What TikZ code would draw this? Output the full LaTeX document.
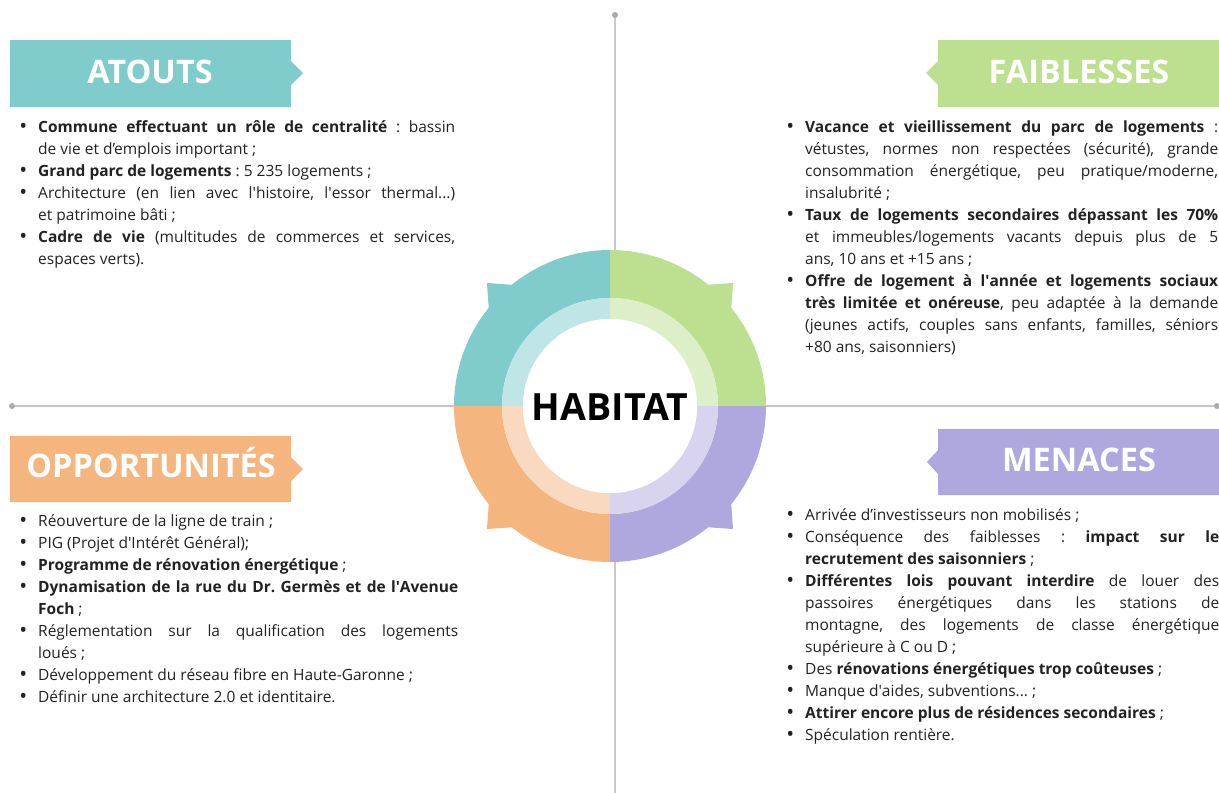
\documentclass[tikz,border=0pt]{standalone}
\usepackage{fontspec}
\setmainfont{Open Sans}
\usetikzlibrary{calc}

\definecolor{atoutsDark}{HTML}{80CBCC}
\definecolor{atoutsLight}{HTML}{C0E5E6}
\definecolor{faibDark}{HTML}{BCE08F}
\definecolor{faibLight}{HTML}{DDEFC8}
\definecolor{oppDark}{HTML}{F4B57F}
\definecolor{oppLight}{HTML}{F9DAC0}
\definecolor{menDark}{HTML}{AFA8DE}
\definecolor{menLight}{HTML}{D8D4EF}
\definecolor{axisGrey}{HTML}{C8C8C8}
\definecolor{dotGrey}{HTML}{ABABAB}
\definecolor{bodyText}{HTML}{222222}

\newcommand{\apos}{\textquotesingle}
\newenvironment{swotlist}[1]{%
  \begin{minipage}[t]{#1}\fontsize{15.5}{22}\selectfont\frenchspacing
  \hyphenpenalty=10000 \tolerance=10000
  \begin{list}{\rule{0pt}{14pt}\raisebox{-1.2pt}{\fontsize{21}{21}\selectfont\textbullet}}{%
    \setlength{\leftmargin}{16pt}%
    \setlength{\labelwidth}{10pt}\setlength{\labelsep}{11pt}%
    \setlength{\itemsep}{0pt}\setlength{\parsep}{0pt}%
    \setlength{\topsep}{0pt}\setlength{\partopsep}{0pt}}}%
  {\end{list}\end{minipage}}

\begin{document}
\begin{tikzpicture}[x=1pt, y=-1pt,
  axis/.style={axisGrey, line width=1.5pt},
  title/.style={anchor=base, white, font=\fontsize{32.5}{32.5}\selectfont\bfseries},
  list/.style={anchor=north west, inner sep=0pt, bodyText}]

\useasboundingbox (0,0) rectangle (1219,793);
\fill[white] (0,0) rectangle (1219,793);

% Draw the axes
\coordinate (north) at (615,15);
\coordinate (south) at (615,793);
\coordinate (west) at (12,406);
\coordinate (east) at (1217,406);
\draw[axis] (north) -- (south);
\draw[axis] (west) -- (east);
\fill[dotGrey] (north) circle[radius=3pt];
\fill[dotGrey] (west) circle[radius=3pt];
\fill[dotGrey] (east) circle[radius=3pt];

% Draw the ring
\begin{scope}[shift={(610,406)}]
\fill[atoutsDark] (90:108pt) -- (90:156pt) arc[start angle=90, end angle=129, radius=156pt] -- (135:174pt) -- (141:156pt) arc[start angle=141, end angle=180, radius=156pt] -- (180:108pt) arc[start angle=180, end angle=90, radius=108pt] -- cycle;
\fill[faibDark] (0:108pt) -- (0:156pt) arc[start angle=0, end angle=39, radius=156pt] -- (45:174pt) -- (51:156pt) arc[start angle=51, end angle=90, radius=156pt] -- (90:108pt) arc[start angle=90, end angle=0, radius=108pt] -- cycle;
\fill[oppDark] (180:108pt) -- (180:156pt) arc[start angle=180, end angle=219, radius=156pt] -- (225:174pt) -- (231:156pt) arc[start angle=231, end angle=270, radius=156pt] -- (270:108pt) arc[start angle=270, end angle=180, radius=108pt] -- cycle;
\fill[menDark] (270:108pt) -- (270:156pt) arc[start angle=270, end angle=309, radius=156pt] -- (315:174pt) -- (321:156pt) arc[start angle=321, end angle=360, radius=156pt] -- (0:108pt) arc[start angle=360, end angle=270, radius=108pt] -- cycle;
% inner light ring
\fill[atoutsLight] (90:87pt) -- (90:108pt) arc[start angle=90, end angle=180, radius=108pt] -- (180:87pt) arc[start angle=180, end angle=90, radius=87pt] -- cycle;
\fill[faibLight] (0:87pt) -- (0:108pt) arc[start angle=0, end angle=90, radius=108pt] -- (90:87pt) arc[start angle=90, end angle=0, radius=87pt] -- cycle;
\fill[oppLight] (180:87pt) -- (180:108pt) arc[start angle=180, end angle=270, radius=108pt] -- (270:87pt) arc[start angle=270, end angle=180, radius=87pt] -- cycle;
\fill[menLight] (270:87pt) -- (270:108pt) arc[start angle=270, end angle=360, radius=108pt] -- (0:87pt) arc[start angle=360, end angle=270, radius=87pt] -- cycle;
\fill[white] (0,0) circle[radius=87pt];
\end{scope}
\node[anchor=base, font=\fontsize{37.5}{37.5}\selectfont\bfseries] (habitat) at (610,420) {HABITAT};

% Draw the headers
\fill[atoutsDark] (10,40) -- (291,40) -- (291,61) -- (303,73) -- (291,85) -- (291,107) -- (10,107) -- cycle;
\node[title] (atouts) at (150,83) {ATOUTS};
\fill[faibDark] (1219,40) -- (938,40) -- (938,61) -- (926,73) -- (938,85) -- (938,107) -- (1219,107) -- cycle;
\node[title] (faiblesses) at (1079,83) {FAIBLESSES};
\fill[oppDark] (10,436) -- (291,436) -- (291,457) -- (303,469) -- (291,481) -- (291,502) -- (10,502) -- cycle;
\node[title] (opportunites) at (151,477) {OPPORTUNITÉS};
\fill[menDark] (1219,429) -- (938,429) -- (938,450) -- (927,462) -- (938,474) -- (938,495) -- (1219,495) -- cycle;
\node[title] (menaces) at (1079,471) {MENACES};

% Add the lists
\node[list] (atoutsList) at (22,118.5) {\begin{swotlist}{433pt}
\item \textbf{Commune effectuant un rôle de centralité} : bassin\linebreak de vie et d’emplois important ;
\item \textbf{Grand parc de logements} : 5 235 logements ;
\item Architecture (en lien avec l\apos histoire, l\apos essor thermal...)\linebreak et patrimoine bâti ;
\item \textbf{Cadre de vie} (multitudes de commerces et services,\linebreak espaces verts).
\end{swotlist}};

\node[list] (faiblessesList) at (789,118.5) {\begin{swotlist}{429pt}
\item \textbf{Vacance et vieillissement du parc de logements} :\linebreak vétustes, normes non respectées (sécurité), grande\linebreak consommation énergétique, peu pratique/moderne,\linebreak insalubrité ;
\item \textbf{Taux de logements secondaires dépassant les 70\%}\linebreak et immeubles/logements vacants depuis plus de 5\linebreak ans, 10 ans et +15 ans ;
\item \textbf{Offre de logement à l\apos année et logements sociaux\linebreak très limitée et onéreuse}, peu adaptée à la demande\linebreak (jeunes actifs, couples sans enfants, familles, séniors\linebreak +80 ans, saisonniers)
\end{swotlist}};

\node[list] (opportunitesList) at (22,512.5) {\begin{swotlist}{436pt}
\item Réouverture de la ligne de train ;
\item PIG (Projet d\apos Intérêt Général);
\item \textbf{Programme de rénovation énergétique} ;
\item \textbf{Dynamisation de la rue du Dr. Germès et de l\apos Avenue\linebreak Foch} ;
\item Réglementation sur la qualification des logements\linebreak loués ;
\item Développement du réseau fibre en Haute-Garonne ;
\item Définir une architecture 2.0 et identitaire.
\end{swotlist}};

\node[list] (menacesList) at (789,506.5) {\begin{swotlist}{430pt}
\item Arrivée d’investisseurs non mobilisés ;
\item Conséquence des faiblesses : \textbf{impact sur le\linebreak recrutement des saisonniers} ;
\item \textbf{Différentes lois pouvant interdire} de louer des\linebreak passoires énergétiques dans les stations de\linebreak montagne, des logements de classe énergétique\linebreak supérieure à C ou D ;
\item Des \textbf{rénovations énergétiques trop coûteuses} ;
\item Manque d\apos aides, subventions... ;
\item \textbf{Attirer encore plus de résidences secondaires} ;
\item Spéculation rentière.
\end{swotlist}};

\end{tikzpicture}
\end{document}
